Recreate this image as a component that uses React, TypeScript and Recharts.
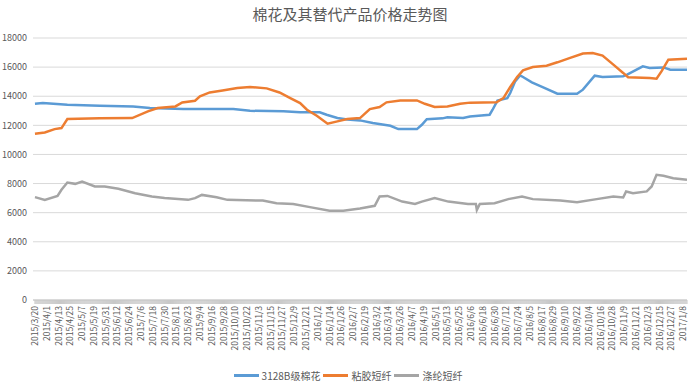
import React from "react";
import { CartesianGrid, Legend, Line, LineChart, XAxis, YAxis } from "recharts";

// x values are days since 2015/3/20 (the first category on the axis)
const startDate = new Date(2015, 2, 20);
const lastDay = 664;

const cottonDays = [0, 8, 33, 66, 100, 117, 151, 202, 219, 253, 270, 290, 297, 308, 318, 331, 344, 362, 370, 389, 394, 399, 415, 420, 436, 443, 463, 466, 471, 481, 484, 489, 494, 497, 506, 517, 532, 552, 558, 570, 578, 599, 603, 619, 626, 640, 647, 664];
const cottonPrices = [13480, 13530, 13420, 13350, 13300, 13190, 13120, 13120, 13000, 12960, 12900, 12900, 12730, 12500, 12400, 12340, 12160, 11970, 11740, 11740, 12040, 12420, 12480, 12560, 12500, 12610, 12730, 13070, 13700, 13870, 14220, 15020, 15430, 15320, 14950, 14630, 14170, 14170, 14450, 15410, 15320, 15370, 15480, 16050, 15940, 15980, 15820, 15820];

const viscoseDays = [0, 10, 20, 27, 33, 66, 99, 115, 125, 143, 150, 163, 168, 178, 191, 206, 219, 236, 249, 260, 270, 277, 287, 298, 308, 318, 331, 341, 351, 358, 372, 389, 397, 407, 420, 433, 443, 470, 477, 484, 491, 497, 507, 521, 532, 545, 558, 568, 578, 589, 599, 604, 626, 633, 638, 645, 664];
const viscosePrices = [11420, 11510, 11740, 11810, 12430, 12480, 12500, 12960, 13190, 13300, 13570, 13690, 13990, 14260, 14400, 14560, 14630, 14540, 14260, 13870, 13530, 13070, 12660, 12110, 12270, 12430, 12500, 13120, 13260, 13580, 13710, 13710, 13480, 13260, 13300, 13480, 13560, 13580, 13870, 14630, 15320, 15780, 16010, 16100, 16330, 16630, 16930, 16970, 16790, 16170, 15600, 15300, 15250, 15200, 15710, 16510, 16580];

const polyesterDays = [0, 10, 23, 27, 33, 41, 48, 61, 71, 85, 102, 119, 132, 156, 163, 170, 185, 196, 232, 246, 263, 280, 300, 314, 331, 346, 351, 359, 374, 387, 394, 407, 421, 441, 449, 450, 453, 468, 482, 496, 507, 535, 552, 572, 589, 599, 602, 609, 623, 628, 633, 640, 650, 664];
const polyesterPrices = [7065, 6880, 7155, 7570, 8070, 7980, 8140, 7800, 7800, 7640, 7340, 7110, 7000, 6880, 7000, 7220, 7065, 6880, 6830, 6650, 6600, 6380, 6140, 6140, 6280, 6470, 7110, 7150, 6760, 6600, 6760, 7000, 6760, 6600, 6600, 6190, 6600, 6650, 6930, 7110, 6930, 6830, 6720, 6930, 7110, 7040, 7460, 7340, 7460, 7800, 8600, 8530, 8370, 8260];

const yTicks = [0, 2000, 4000, 6000, 8000, 10000, 12000, 14000, 16000, 18000];

const seriesInfo = [
  { name: "3128B级棉花", color: "#5b9bd5", days: cottonDays, prices: cottonPrices },
  { name: "粘胶短纤", color: "#ed7d31", days: viscoseDays, prices: viscosePrices },
  { name: "涤纶短纤", color: "#a5a5a5", days: polyesterDays, prices: polyesterPrices },
];

const font = "'Noto Sans CJK SC', 'Noto Sans', sans-serif";
const textColor = "#595959";

// every day gets a tick mark, every 12th day gets a date label
const dayTicks = Array.from({ length: lastDay + 1 }, (_, i) => i);

function dayLabel(day: number) {
  const d = new Date(startDate.getFullYear(), startDate.getMonth(), startDate.getDate() + day);
  return `${d.getFullYear()}/${d.getMonth() + 1}/${d.getDate()}`;
}

function DateTick(props: any) {
  const { x, y, payload } = props;
  if (payload.value % 12 !== 0) return null;
  return (
    <g transform={`translate(${x},${y})`}>
      <text transform="rotate(-90)" textAnchor="end" dy={3} fontSize={8.5} fill={textColor} fontFamily={font}>
        {dayLabel(payload.value)}
      </text>
    </g>
  );
}

function ChartLegend() {
  return (
    <div style={{ display: "flex", justifyContent: "center", alignItems: "center", fontFamily: font, fontSize: 10, color: textColor, paddingLeft: 12, paddingTop: 8 }}>
      {seriesInfo.map((s) => (
        <div key={s.name} style={{ display: "flex", alignItems: "center", marginRight: 3 }}>
          <span style={{ display: "inline-block", width: 25, height: 2.5, background: s.color, marginRight: 3 }} />
          <span>{s.name}</span>
        </div>
      ))}
    </div>
  );
}

export default function App() {
  const lines = seriesInfo.map((s) => ({
    ...s,
    data: s.days.map((day, i) => ({ day, price: s.prices[i] })),
  }));

  return (
    <div style={{ position: "absolute", left: 0, top: 0, width: 700, height: 384, background: "#fff" }}>
      <div style={{ position: "absolute", top: 3, width: 700, textAlign: "center", fontFamily: font, fontSize: 15, color: textColor }}>
        棉花及其替代产品价格走势图
      </div>
      <LineChart width={700} height={384} margin={{ top: 38, right: 13, bottom: 0, left: 0 }}>
        <CartesianGrid vertical={false} stroke="#d9d9d9" />
        <XAxis
          type="number"
          dataKey="day"
          domain={[-2, lastDay]}
          ticks={dayTicks}
          interval={0}
          tick={<DateTick />}
          tickSize={4}
          tickMargin={2}
          height={60}
          stroke="#c8c8c8"
          allowDataOverflow
        />
        <YAxis
          domain={[0, 18000]}
          ticks={yTicks}
          width={33}
          axisLine={false}
          tickLine={false}
          tickSize={4}
          tickMargin={2}
          tick={{ fontSize: 9, fill: textColor, fontFamily: font }}
        />
        {lines.map((s) => (
          <Line
            key={s.name}
            data={s.data}
            dataKey="price"
            name={s.name}
            stroke={s.color}
            strokeWidth={2.5}
            dot={false}
            isAnimationActive={false}
          />
        ))}
        <Legend verticalAlign="bottom" height={24} content={<ChartLegend />} />
      </LineChart>
    </div>
  );
}
